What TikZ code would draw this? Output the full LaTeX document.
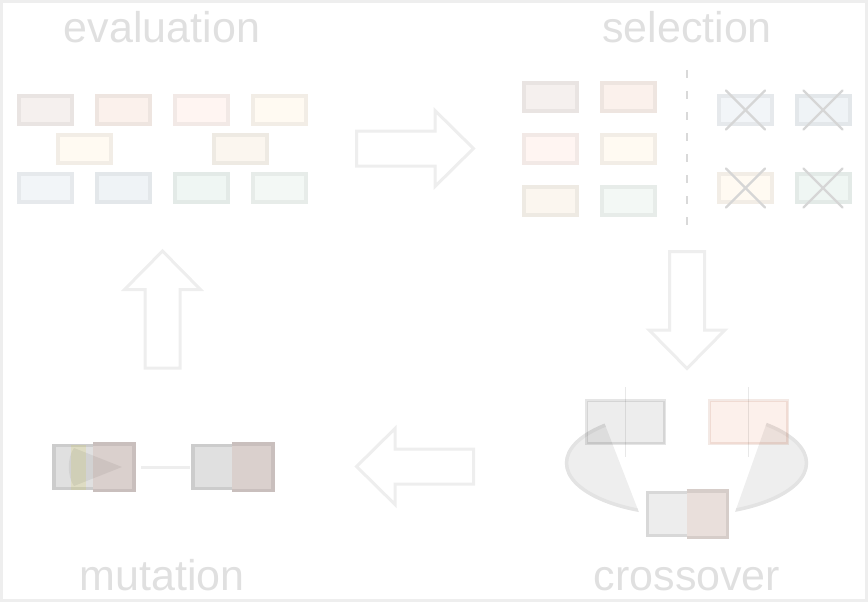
\documentclass[tikz,border=0pt]{standalone}
\usepackage{fontspec}
\setmainfont{Liberation Sans}
\usepackage{xcolor}
\usepackage{tikz}
\newcommand{\geneNode}[4]{
	\definecolor{tmpColor}{HTML}{#2}
	\node[gene, fill = tmpColor, draw = tmpColor!95!black] (#1) at (#3, #4) {};
}
\newcommand{\splitNode}[5]{
	\definecolor{tmpLeft}{HTML}{#4}
	\definecolor{tmpRight}{HTML}{#5}
	\node[parent, fill = tmpLeft, draw = tmpLeft!91!black] (#1) at (#2, #3) {};
	\fill[tmpRight] (#1.north) rectangle (#1.south east);
	\draw[line width = 3.5pt, tmpRight!92!black] (#1.north) -- (#1.north east) -- (#1.south east) -- (#1.south);
}
\newcommand{\bigArrow}[3]{
	\draw[hollow, shift = {(#1, #2)}, rotate = #3] (-58.5, -17.5) -- (20, -17.5) -- (20, -38) -- (58.5, 0) -- (20, 38) -- (20, 17.5) -- (-58.5, 17.5) -- cycle;
}
\definecolor{frameGray}{HTML}{EEEEEE}
\definecolor{labelGray}{HTML}{E0E0E0}
\definecolor{dashGray}{HTML}{D9D9D9}
\definecolor{crossGray}{HTML}{D6D6D6}
\definecolor{lobeGray}{HTML}{EEEEEE}
\definecolor{salmon}{HTML}{E16937}
\tikzset{
	gene/.style = {rectangle, minimum width = 53pt, minimum height = 28pt, line width = 4pt, inner sep = 0pt},
	parent/.style = {rectangle, minimum width = 78pt, minimum height = 43pt, line width = 3.5pt, inner sep = 0pt},
	hollow/.style = {draw = frameGray, fill = white, line width = 3pt, line join = miter},
	title/.style = {anchor = base, text = labelGray, font = \fontsize{43}{50}\selectfont},
	strike/.style = {crossGray, line width = 2.2pt, line cap = round},
	lobe/.style = {fill = lobeGray, draw = black!11, line width = 3.5pt}
}

\begin{document}
\begin{tikzpicture}[x = 1pt, y = -1pt]%

		\useasboundingbox (0, 0) rectangle (868, 602);
		\draw[frameGray, line width = 3pt] (1.5, 1.5) rectangle (866.5, 600.5);

		% labels
		\node[title] (evalLabel) at (162, 43) {evaluation};
		\node[title] (selLabel) at (687, 43) {selection};
		\node[title] (mutLabel) at (162, 590) {mutation};
		\node[title] (crossLabel) at (687, 590) {crossover};

		% evaluation population
		\geneNode{e1}{F5F0EE}{45.5}{110}
		\geneNode{e2}{FBF1EC}{123.5}{110}
		\geneNode{e3}{FFF5F2}{201.5}{110}
		\geneNode{e4}{FFFAF2}{279.5}{110}
		\geneNode{e5}{FFFAF2}{84.5}{149}
		\geneNode{e6}{FBF6EF}{240.5}{149}
		\geneNode{e7}{F2F5F8}{45.5}{188}
		\geneNode{e8}{EFF3F6}{123.5}{188}
		\geneNode{e9}{EFF6F3}{201.5}{188}
		\geneNode{e10}{F3F8F5}{279.5}{188}

		% selected
		\geneNode{s1}{F5F0EE}{550}{97}
		\geneNode{s2}{FBF1EC}{628}{97}
		\geneNode{s3}{FFF5F2}{550}{149}
		\geneNode{s4}{FFFAF2}{628}{149}
		\geneNode{s5}{FBF6EF}{550}{201}
		\geneNode{s6}{F3F8F5}{628}{201}

		% rejected
		\geneNode{r1}{F2F5F8}{745.5}{110}
		\geneNode{r2}{EFF3F6}{823}{110}
		\geneNode{r3}{FFFAF2}{745.5}{188}
		\geneNode{r4}{EFF6F3}{823}{188}
		\foreach \r in {r1, r2, r3, r4} {
			\draw[strike] ([shift = {(-19.5, -19.5)}]\r.center) -- ([shift = {(19.5, 19.5)}]\r.center);
			\draw[strike] ([shift = {(-19.5, 19.5)}]\r.center) -- ([shift = {(19.5, -19.5)}]\r.center);
		}
		\draw[dashGray, line width = 2pt, dash pattern = on 8pt off 13pt] (686.7, 70) -- (686.7, 228);

		% arrows
		\bigArrow{415}{148.5}{0}
		\bigArrow{687}{310}{-90}
		\bigArrow{415}{466.5}{180}
		\bigArrow{162.5}{309.5}{90}

		% crossover
		\begin{scope}
			\clip (587.7, 380) -- (645.8, 530) -- (550, 530) -- (550, 380) -- cycle;
			\draw[lobe] (686.5, 463) ellipse [x radius = 120, y radius = 51.5];
		\end{scope}
		\begin{scope}
			\clip (781.9, 380) -- (728.7, 530) -- (830, 530) -- (830, 380) -- cycle;
			\draw[lobe] (686.5, 463) ellipse [x radius = 120, y radius = 51.5];
		\end{scope}
		\node[parent, fill = black, fill opacity = 0.07, draw = black, draw opacity = 0.1] (pA) at (625.5, 422) {};
		\node[parent, fill = salmon, fill opacity = 0.1, draw = salmon!70!black, draw opacity = 0.12] (pB) at (748.5, 422) {};
		\draw[black, opacity = 0.09, line width = 1pt] ([yshift = 12pt]pA.north) -- ([yshift = -12pt]pA.south);
		\draw[black, opacity = 0.09, line width = 1pt] ([yshift = 12pt]pB.north) -- ([yshift = -12pt]pB.south);
		\splitNode{child}{686.5}{514}{EDEDED}{E9DFDB}

		% mutation
		\splitNode{mA}{93}{467}{E0E0E0}{DAD0CD}
		\splitNode{mB}{232}{467}{E0E0E0}{DAD0CD}
		\fill[yellow!60!olive, opacity = 0.13] (71, 444.5) rectangle (86, 489.5);
		\fill[black, opacity = 0.06] (74, 448) .. controls (67, 458) and (67, 476) .. (74, 486) -- (122, 467) -- cycle;
		\draw[frameGray, line width = 3pt, shorten <= 7.5pt, shorten >= 1pt] (mA) -- (mB);

	\end{tikzpicture}
\end{document}
